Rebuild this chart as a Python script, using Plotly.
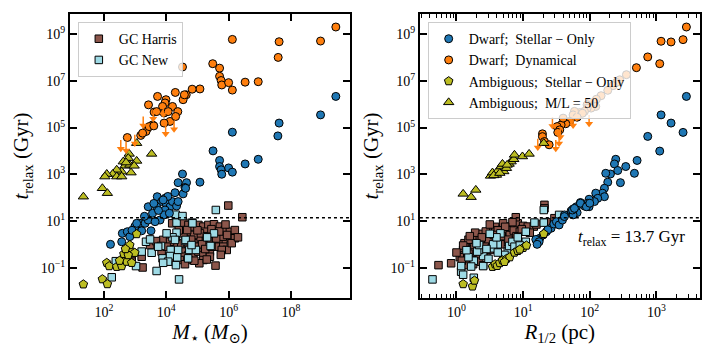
import numpy as np
import plotly.graph_objects as go

SERIF = "Liberation Serif, DejaVu Serif, serif"

COLOR_HARRIS = "#8c564b"
COLOR_NEW = "#9edae5"
COLOR_BLUE = "#1f77b4"
COLOR_ORANGE = "#ff7f0e"
COLOR_OLIVE = "#bcbd22"

T_HUBBLE = 13.7

# values, all as log10
# ---- left panel: stellar mass (Msun) vs relaxation time (Gyr) ----
HARRIS_LOGM = [4.19, 4.55, 4.71, 4.87, 5.03, 5.19, 5.35, 5.53, 5.72, 5.88, 6.04, 6.20, 6.04, 6.20, 5.83,
               5.67, 5.51, 5.35, 5.19, 5.03, 4.87, 4.71, 4.55, 4.71, 4.87, 5.03, 5.19, 5.40, 5.61, 5.83,
               5.94, 5.78, 5.40, 5.19, 4.71, 4.55, 4.12, 3.96, 3.85, 3.80, 3.90, 3.48, 3.21, 2.89, 2.89,
               3.24, 5.06, 5.58, 5.81, 5.51, 5.24, 5.08, 4.87, 4.65, 4.55, 4.44, 4.24, 4.12, 4.01, 4.28,
               4.44, 4.67, 5.99, 6.44, 3.67, 5.00, 5.30, 5.60, 5.70, 5.95, 6.10, 5.45, 4.95, 5.15, 5.25,
               4.80, 4.30, 4.40, 5.90, 6.30, 5.30, 4.90, 4.60, 5.75, 5.45]
HARRIS_LOGT_M = [0.90, 0.93, 0.83, 0.76, 0.83, 0.76, 0.83, 0.86, 0.76, 0.61, 0.54, 0.61, 0.26, 0.26, 0.11,
                 0.04, 0.11, 0.19, 0.26, 0.19, 0.04, -0.10, -0.31, -0.46, -0.46, -0.31, -0.46, -0.31, -0.10, -0.10,
                 -0.24, -0.24, -0.53, -0.67, -0.67, -0.53, -0.74, -0.53, -0.31, 0.11, 0.19, -0.03, -0.53, -0.53, -0.74,
                 -0.99, -0.81, -0.91, 0.33, 0.47, 0.54, 0.47, 0.40, 0.33, 0.47, 0.04, -0.03, 0.11, -0.10, -0.39,
                 -0.67, 0.61, 1.66, 1.16, 0.14, 0.60, 0.35, 0.25, 0.55, 0.40, 0.05, 0.65, -0.10, 0.00, -0.20,
                 0.20, 0.30, 0.60, 0.85, 0.30, -0.65, -0.70, -0.85, -0.45, -0.10]

NEW_LOGM = [4.30, 5.59, 4.33, 4.83, 4.33, 4.20, 4.60, 3.35, 3.83, 4.14, 4.38, 4.74, 4.95, 5.53, 5.42,
            3.53, 3.88, 4.12, 4.35, 4.06, 4.31, 3.90, 3.03, 3.69, 2.38, 2.25, 4.41, 3.21, 4.70, 3.74,
            3.48, 4.28, 4.62, 4.81, 4.52, 4.84, 5.31, 4.01]
NEW_LOGT_M = [1.27, 1.47, 0.93, 0.93, 0.50, 0.30, 0.14, 0.11, -0.07, -0.24, -0.24, -0.24, -0.24, 0.47, -0.07,
              -0.36, -0.60, -0.50, -0.56, -0.74, -0.89, -0.79, -0.93, -1.14, -0.72, -1.41, -1.50, -0.31, -0.60, -0.10,
              0.21, 0.19, 0.19, -0.03, 1.21, 0.90, 0.30, 0.47]

DWARF_STAR_LOGM = [9.44, 8.95, 7.62, 7.58, 6.12, 5.50, 5.71, 5.71, 5.76, 6.00, 6.12, 6.53, 6.95, 5.78,
                   4.52, 4.38, 4.65, 5.08, 4.28, 4.60, 4.54,
                   2.21, 2.57, 2.59, 2.75, 2.83, 2.99, 3.15, 3.32, 3.21, 3.51, 3.42, 3.56, 3.42, 3.71,
                   3.85, 3.69, 3.80, 3.64, 3.96, 3.99, 4.12, 3.96, 3.93, 4.10, 4.20, 4.33, 4.38, 4.62,
                   3.60, 3.75, 3.30, 2.90, 3.05, 4.05, 3.90]
DWARF_STAR_LOGT_M = [6.33, 5.54, 5.19, 4.64, 4.80, 4.00, 3.59, 3.33, 3.19, 3.27, 3.09, 3.44, 3.64, 3.00,
                     3.01, 2.64, 2.64, 2.66, 2.21, 2.43, 2.16,
                     0.00, 0.11, 0.47, 0.54, 0.33, 0.76, 0.90, 0.90, 0.58, 0.58, 1.04, 1.33, 1.61, 2.04,
                     1.83, 1.61, 1.04, 0.97, 1.97, 1.76, 1.61, 1.47, 1.26, 1.33, 1.83, 1.64, 1.83, 2.40,
                     1.75, 1.45, 1.20, 0.60, 0.90, 2.05, 1.90]

DWARF_DYN_LOGM = [9.44, 6.12, 7.62, 8.95, 7.59, 5.49, 5.71, 5.71, 5.76, 5.78, 6.00, 6.12, 6.53, 6.95, 5.08,
                  4.52, 3.72, 4.29, 4.64, 4.54, 3.99, 3.96, 3.43, 3.88, 4.20, 4.37, 3.93, 4.06, 3.61, 4.12,
                  3.93, 3.56, 3.40, 3.35, 3.18, 3.24, 2.75, 4.83, 4.58, 4.30, 3.69, 3.45, 3.60]
DWARF_DYN_LOGT_M = [9.30, 8.77, 8.67, 8.70, 8.00, 7.73, 7.54, 7.19, 7.01, 6.82, 6.92, 6.60, 6.94, 6.96, 6.65,
                    7.59, 6.33, 6.50, 6.40, 6.19, 6.19, 6.05, 5.97, 5.90, 5.90, 5.68, 5.62, 5.68, 5.66, 5.26,
                    5.19, 5.11, 4.97, 4.83, 4.66, 4.76, 4.57, 6.64, 6.40, 5.47, 5.68, 5.04, 5.07]

LIMIT_LOGM = [2.54, 2.71, 2.99, 3.26, 3.58, 3.90, 3.98, 4.25]
LIMIT_LOGT_M = [4.47, 4.40, 4.69, 5.47, 5.75, 5.95, 5.11, 5.30]

AMB_STAR_LOGM = [1.34, 1.95, 2.11, 2.09, 2.17, 2.41, 2.57, 2.62, 2.64, 2.73, 2.89, 2.83, 2.83, 2.99,
                 2.78, 3.05, 2.50, 2.69]
AMB_STAR_LOGT_M = [-1.71, -1.49, -1.70, -0.79, -0.93, -0.96, -0.93, -0.60, -0.41, -0.74, -0.79, -0.24, -0.03, -0.36,
                   -0.46, 0.44, -0.70, -0.20]

AMB_ML_LOGM = [3.05, 3.53, 2.81, 2.78, 2.62, 2.67, 2.83, 3.05, 2.97, 2.87, 2.57, 2.41, 2.28, 2.41,
               2.57, 2.09, 2.03, 1.95, 1.34, 2.11, 2.71]
AMB_ML_LOGT_M = [4.33, 3.87, 3.87, 3.69, 3.54, 3.36, 3.40, 3.57, 3.36, 3.07, 3.11, 3.19, 3.01, 2.90,
                 2.90, 3.01, 2.90, 2.40, 2.04, 2.19, 3.50]

# ---- right panel: half-light radius (pc) vs relaxation time (Gyr) ----
HARRIS_LOGR = [-0.27, -0.08, 0.10, 0.12, 0.17, 0.22, 0.25, 0.30, 0.35, 0.41, 0.47, 0.52, 0.59, 0.67, 0.76,
               0.82, 0.87, 0.92, 1.00, 1.07, 1.16, 0.89, 1.32, 1.32, 0.27, 0.32, 0.20, 0.29, 0.42, 0.47,
               0.55, 0.62, 0.72, 0.80, 0.86, 0.95, 0.34, 0.45, 0.50, 0.60, 0.70, 0.15, 1.47, 0.12, 0.18,
               0.38, 0.44, 0.58, 0.64, 0.36, 0.24, 0.40, 0.53, 0.68, 0.78, 0.90, 1.10, 0.15, 0.28, 0.50,
               0.70, 0.25, 0.40, 0.05, 0.33, 0.48, 0.62, 0.10, 0.20, 0.56, 0.84, 1.20, 1.35, 0.00, 0.08,
               0.43, 0.73, 0.98, 0.38, 0.18, 0.53, 0.66]
HARRIS_LOGT_R = [-0.89, -0.81, -0.24, -0.46, -0.03, -0.24, 0.11, 0.26, 0.26, 0.33, 0.33, 0.61, 0.54, 0.64, 0.76,
                 0.61, 0.76, 0.90, 0.79, 0.76, 0.76, 1.16, 1.69, 1.54, -0.10, -0.24, -0.67, -0.46, 0.11, -0.03,
                 0.19, 0.33, 0.47, 0.40, 0.59, 0.54, -0.74, -0.46, -0.24, -0.10, 0.11, -0.89, 1.12, 0.05, 0.20,
                 0.45, 0.55, 0.75, 0.20, -0.15, -0.35, -0.30, 0.00, 0.35, 0.20, 0.35, 0.50, -0.60, 0.50, 0.85,
                 0.90, -0.85, -0.90, -0.55, 0.05, 0.20, 0.60, -0.05, 0.35, 0.40, 0.95, 0.85, 0.95, -0.35, -0.70,
                 -0.10, 0.75, 0.65, 0.30, -0.40, -0.15, 0.00]

NEW_LOGR = [-0.36, 0.07, 0.07, 0.26, 0.26, 0.40, 0.40, 0.34, 0.56, 0.62, 0.66, 0.77, 0.79, 0.70, 0.84,
            0.92, 1.04, 1.04, 1.17, 1.31, 1.31, 0.55, 0.31, 0.34, 0.87, 1.54, 0.18, 0.45, 0.60, 0.50,
            0.15, 0.72, 0.95, 0.30, 0.48, 0.22, 0.62, 0.10]
NEW_LOGT_R = [-1.50, -1.17, -0.93, -1.43, -0.70, -0.93, -0.50, -0.24, -0.17, 0.00, 0.47, -0.31, -0.07, -0.67, 0.11,
              0.30, 0.54, 0.11, 0.93, 0.93, 1.47, 0.00, -0.31, -0.03, -0.10, 1.26, -0.55, -0.20, 0.30, 0.45,
              -0.25, -0.45, -0.05, 0.05, -0.62, -0.95, -0.35, -1.30]

DWARF_STAR_LOGR = [3.45, 3.07, 3.22, 3.40, 2.87, 3.05, 2.71, 2.67, 2.54, 2.39, 2.37, 2.42, 2.31, 2.24, 2.46,
                   2.27, 2.22, 2.19, 2.09, 2.22, 2.12, 2.07, 1.99, 1.97, 1.99, 1.92, 1.86, 1.80, 1.75, 1.72,
                   1.81, 1.75, 1.62, 1.20, 1.25, 1.35, 1.42, 1.46, 1.50, 1.54, 1.59, 1.62, 1.74, 1.77, 1.86,
                   1.95, 2.00, 1.19, 1.24, 1.21, 1.37, 1.30]
DWARF_STAR_LOGT_R = [6.33, 5.54, 5.19, 4.79, 4.62, 3.99, 3.59, 3.04, 3.33, 3.64, 3.44, 3.16, 3.01, 3.04, 2.64,
                     2.66, 2.40, 2.19, 2.19, 2.04, 1.97, 1.83, 1.93, 1.76, 1.61, 1.64, 1.79, 1.61, 1.51, 1.43,
                     1.36, 1.26, 1.26, 0.19, 0.26, 0.54, 0.69, 0.87, 0.97, 0.83, 1.04, 1.19, 1.47, 1.54, 1.76,
                     1.61, 1.76, 0.21, 0.11, 0.00, 0.62, 0.40]

DWARF_DYN_LOGR = [3.45, 3.07, 3.22, 3.40, 2.87, 3.05, 2.70, 2.55, 2.45, 2.40, 2.35, 2.27, 2.17, 2.10, 2.00,
                  1.96, 2.09, 2.02, 1.96, 1.92, 1.85, 1.77, 1.75, 1.89, 1.81, 1.70, 1.64, 1.57, 1.51, 1.55,
                  1.52, 1.29, 1.29, 1.32, 1.39, 1.60]
DWARF_DYN_LOGT_R = [9.30, 8.69, 8.66, 8.76, 8.02, 7.73, 7.56, 7.26, 7.04, 6.93, 6.79, 6.59, 6.36, 6.21, 6.07,
                    5.97, 5.90, 5.83, 5.83, 5.69, 5.64, 5.69, 5.54, 5.61, 5.44, 5.26, 5.16, 5.11, 5.04, 4.90,
                    4.79, 4.73, 4.61, 4.40, 4.26, 5.40]

LIMIT_LOGR = [1.44, 1.80, 1.75, 1.99, 1.56, 1.54, 1.49, 1.22]
LIMIT_LOGT_R = [5.44, 5.79, 5.47, 5.54, 4.97, 4.69, 4.47, 4.52]

AMB_STAR_LOGR = [0.10, 0.24, 0.27, 0.54, 0.58, 0.61, 0.65, 0.69, 0.75, 0.80, 0.87, 0.92, 1.00, 1.05,
                 1.31, 0.72, 0.95]
AMB_STAR_LOGT_R = [-1.70, -1.80, -1.55, -0.96, -0.85, -0.92, -0.80, -0.68, -0.62, -0.55, -0.35, -0.28, -0.15, -0.05,
                   0.45, -0.75, -0.22]

AMB_ML_LOGR = [0.10, 0.22, 0.29, 0.51, 0.54, 0.60, 0.62, 0.67, 0.71, 0.75, 0.79, 0.82, 0.86, 0.87,
               0.99, 1.09, 0.69, 1.31, 0.56, 0.65, 0.76]
AMB_ML_LOGT_R = [2.16, 2.02, 2.33, 2.93, 3.07, 2.97, 3.16, 3.33, 3.12, 3.26, 3.44, 3.54, 3.64, 3.83,
                 3.76, 3.87, 3.44, 4.33, 2.95, 3.05, 3.40]

# ticks
Y_TICKS = [1e-1, 1e1, 1e3, 1e5, 1e7, 1e9]
Y_TICKTEXT = ["10<sup>\u22121</sup>", "10<sup>1</sup>", "10<sup>3</sup>",
              "10<sup>5</sup>", "10<sup>7</sup>", "10<sup>9</sup>"]
M_TICKS = [1e2, 1e4, 1e6, 1e8]
M_TICKTEXT = ["10<sup>2</sup>", "10<sup>4</sup>", "10<sup>6</sup>", "10<sup>8</sup>"]
R_TICKS = [1, 10, 100, 1000]
R_TICKTEXT = ["10<sup>0</sup>", "10<sup>1</sup>", "10<sup>2</sup>", "10<sup>3</sup>"]
R_MINOR = [m * d for d in (0.1, 1, 10, 100, 1000) for m in range(2, 10)]

ARROW_SHAFT = 0.34
ARROW_HEAD = 0.38


def _markers(logx, logy, name, symbol, color, size, axes, legend, showlegend):
    return go.Scatter(
        x=np.power(10.0, logx),
        y=np.power(10.0, logy),
        mode="markers",
        marker=dict(symbol=symbol, size=size, color=color,
                    line=dict(color="black", width=1)),
        name=name,
        xaxis=axes[0],
        yaxis=axes[1],
        legend=legend,
        showlegend=showlegend,
        hoverinfo="skip",
    )


def _upper_limits(logx, logy, axes):
    shaft_x, shaft_y = [], []
    for lx, ly in zip(logx, logy):
        shaft_x += [10 ** lx, 10 ** lx, None]
        shaft_y += [10 ** ly, 10 ** (ly - ARROW_SHAFT), None]

    shaft = go.Scatter(
        x=shaft_x, y=shaft_y, mode="lines",
        line=dict(color=COLOR_ORANGE, width=1.5),
        xaxis=axes[0], yaxis=axes[1], showlegend=False, hoverinfo="skip",
    )
    head = go.Scatter(
        x=np.power(10.0, logx),
        y=np.power(10.0, np.array(logy) - ARROW_HEAD),
        mode="markers",
        marker=dict(symbol="triangle-down", size=7, color=COLOR_ORANGE),
        xaxis=axes[0], yaxis=axes[1], showlegend=False, hoverinfo="skip",
    )
    return [shaft, head]


def _panel_traces(data, axes, gc_legend, dwarf_legend):
    traces = [
        _markers(*data["harris"], "GC Harris", "square", COLOR_HARRIS, 7.5, axes, "legend", gc_legend),
        _markers(*data["new"], "GC New", "square", COLOR_NEW, 7.5, axes, "legend", gc_legend),
        _markers(*data["dwarf_star"], "Dwarf;  Stellar \u2212 Only", "circle", COLOR_BLUE, 8,
                 axes, "legend2", dwarf_legend),
        _markers(*data["dwarf_dyn"], "Dwarf;  Dynamical", "circle", COLOR_ORANGE, 8,
                 axes, "legend2", dwarf_legend),
        _markers(*data["amb_star"], "Ambiguous;  Stellar \u2212 Only", "pentagon", COLOR_OLIVE, 9,
                 axes, "legend2", dwarf_legend),
        _markers(*data["amb_ml"], "Ambiguous;  M/L = 50", "triangle-up", COLOR_OLIVE, 9,
                 axes, "legend2", dwarf_legend),
    ]
    traces += _upper_limits(*data["limits"], axes)
    return traces


def _log_axis(range_, domain, anchor, tickvals, ticktext, title, standoff, minor_vals=None):
    axis = dict(
        type="log",
        range=range_,
        domain=domain,
        anchor=anchor,
        automargin=False,
        tickmode="array",
        tickvals=tickvals,
        ticktext=ticktext,
        ticks="inside",
        ticklen=7,
        tickwidth=1.5,
        tickcolor="black",
        tickfont=dict(size=14),
        showline=True,
        linewidth=2,
        linecolor="black",
        mirror="ticks",
        showgrid=False,
        zeroline=False,
        title=dict(text=title, font=dict(size=21), standoff=standoff),
    )
    if minor_vals:
        axis["minor"] = dict(
            tickmode="array",
            tickvals=minor_vals,
            ticks="inside",
            ticklen=4,
            tickwidth=1,
            tickcolor="black",
            showgrid=False,
        )
    return axis


left = {
    "harris": (HARRIS_LOGM, HARRIS_LOGT_M),
    "new": (NEW_LOGM, NEW_LOGT_M),
    "dwarf_star": (DWARF_STAR_LOGM, DWARF_STAR_LOGT_M),
    "dwarf_dyn": (DWARF_DYN_LOGM, DWARF_DYN_LOGT_M),
    "amb_star": (AMB_STAR_LOGM, AMB_STAR_LOGT_M),
    "amb_ml": (AMB_ML_LOGM, AMB_ML_LOGT_M),
    "limits": (LIMIT_LOGM, LIMIT_LOGT_M),
}
right = {
    "harris": (HARRIS_LOGR, HARRIS_LOGT_R),
    "new": (NEW_LOGR, NEW_LOGT_R),
    "dwarf_star": (DWARF_STAR_LOGR, DWARF_STAR_LOGT_R),
    "dwarf_dyn": (DWARF_DYN_LOGR, DWARF_DYN_LOGT_R),
    "amb_star": (AMB_STAR_LOGR, AMB_STAR_LOGT_R),
    "amb_ml": (AMB_ML_LOGR, AMB_ML_LOGT_R),
    "limits": (LIMIT_LOGR, LIMIT_LOGT_R),
}

fig = go.Figure()
fig.add_traces(_panel_traces(left, ("x", "y"), gc_legend=True, dwarf_legend=False))
fig.add_traces(_panel_traces(right, ("x2", "y2"), gc_legend=False, dwarf_legend=True))

y_title = "<i>t</i><sub>relax</sub> (Gyr)"
legend_style = dict(
    xanchor="left", yanchor="top",
    bgcolor="rgba(255,255,255,0.8)", bordercolor="#cccccc", borderwidth=1,
    font=dict(size=14),
)

fig.update_layout(
    width=714,
    height=357,
    margin=dict(l=0, r=0, t=0, b=0),
    paper_bgcolor="white",
    plot_bgcolor="white",
    font=dict(family=SERIF, size=14, color="black"),
    xaxis=_log_axis([0.91, 9.89], [0.098, 0.490], "y", M_TICKS, M_TICKTEXT,
                    "<i>M</i><sub>\u22c6</sub> (<i>M</i><sub>\u2299</sub>)", 1),
    yaxis=_log_axis([-2.3, 9.86], [0.165, 0.961], "x", Y_TICKS, Y_TICKTEXT, y_title, 6),
    xaxis2=_log_axis([-0.55, 3.65], [0.588, 0.980], "y2", R_TICKS, R_TICKTEXT,
                     "<i>R</i><sub>1/2</sub> (pc)", 1, minor_vals=R_MINOR),
    yaxis2=_log_axis([-2.3, 9.86], [0.165, 0.961], "x2", Y_TICKS, Y_TICKTEXT, y_title, 6),
    legend=dict(x=0.109, y=0.938, **legend_style),
    legend2=dict(x=0.599, y=0.938, **legend_style),
    shapes=[
        dict(type="line", xref="x domain", yref="y", x0=0, x1=1, y0=T_HUBBLE, y1=T_HUBBLE,
             line=dict(color="black", width=1.5, dash="dot")),
        dict(type="line", xref="x2 domain", yref="y2", x0=0, x1=1, y0=T_HUBBLE, y1=T_HUBBLE,
             line=dict(color="black", width=1.5, dash="dot")),
    ],
    annotations=[
        dict(text="<i>t</i><sub>relax</sub> = 13.7 Gyr", xref="paper", yref="paper",
             x=0.962, y=0.333, xanchor="right", yanchor="middle", showarrow=False,
             font=dict(size=17), bgcolor="rgba(255,255,255,0)"),
    ],
)

# the page body has an 8px default margin; drop it so the figure fills the window
fig.write_html(
    "out.html",
    config={"displayModeBar": False},
    post_script="document.body.style.margin = '0px';",
)
